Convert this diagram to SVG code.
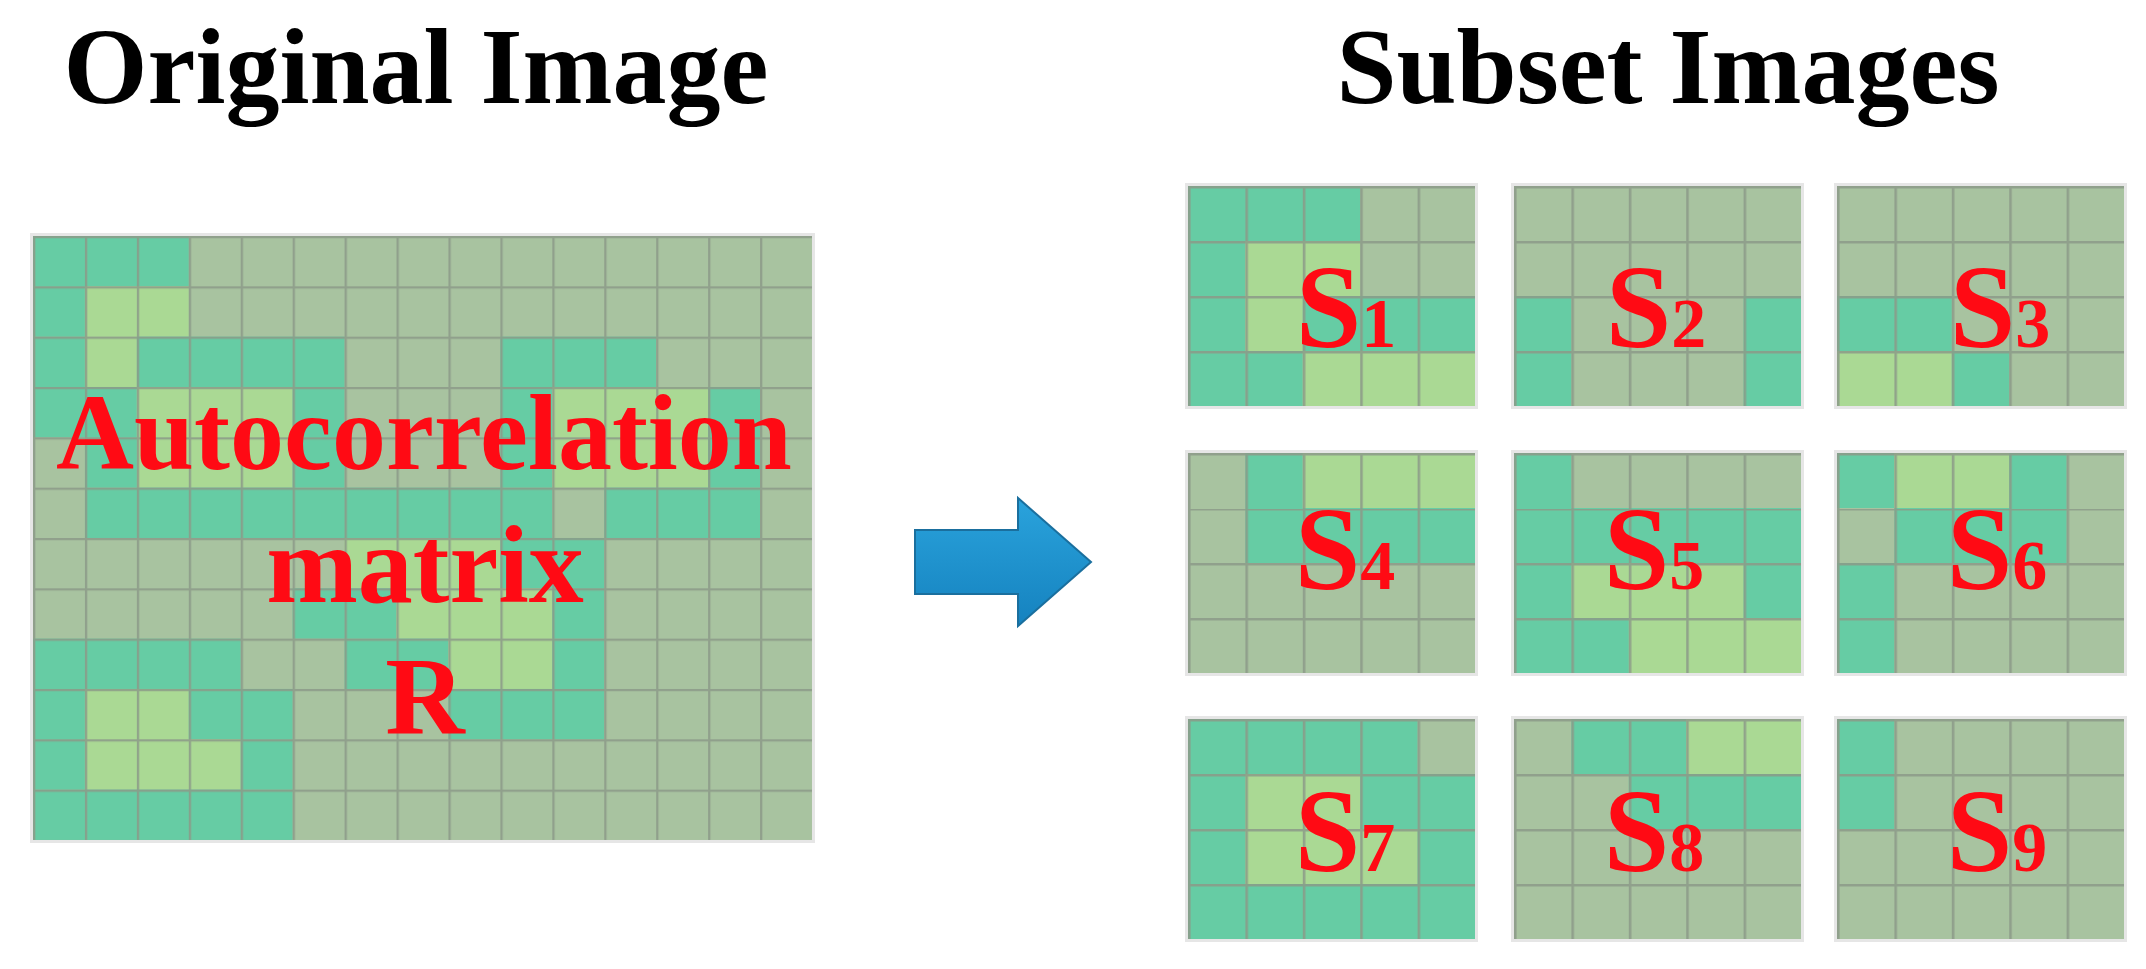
<svg xmlns="http://www.w3.org/2000/svg" width="2146" height="969" viewBox="0 0 2146 969">
<style>
.g{fill:#a8c3a0}.t{fill:#66cca4}.l{fill:#aad994}
.title{font-family:"Liberation Serif",serif;font-weight:bold;font-size:108px;fill:#000}
.lab{font-family:"Liberation Serif",serif;font-weight:bold;fill:#ff0a14;text-anchor:middle}
.sub{font-family:"Liberation Serif",serif;font-weight:bold;font-size:118px;fill:#ff0a14;text-anchor:middle}
.sub tspan{font-size:70px}
</style>
<defs>
<pattern id="grid" patternUnits="userSpaceOnUse" width="1" height="1">
<path d="M0 0H1M0 0V1" fill="none" stroke="#8c9a89" stroke-width="0.09" stroke-opacity="0.85"/>
</pattern>
<linearGradient id="ar" x1="0" y1="0" x2="0" y2="1">
<stop offset="0" stop-color="#2aa3dc"/><stop offset="1" stop-color="#1582bf"/>
</linearGradient>
</defs>
<rect width="2146" height="969" fill="#fff"/>
<text class="title" x="416" y="103" text-anchor="middle">Original Image</text>
<text class="title" x="1668" y="103" text-anchor="middle">Subset Images</text>

<g id="original">
<rect x="30" y="233" width="785" height="610" fill="#e6e6e6"/>
<g transform="translate(33,236) scale(51.93,50.33)">
<rect class="g" x="0" y="0" width="15" height="12"/>
<rect class="t" x="0" y="0" width="3" height="1"/>
<rect class="t" x="0" y="1" width="1" height="1"/><rect class="l" x="1" y="1" width="2" height="1"/>
<rect class="t" x="0" y="2" width="1" height="1"/><rect class="l" x="1" y="2" width="1" height="1"/><rect class="t" x="2" y="2" width="4" height="1"/><rect class="t" x="9" y="2" width="3" height="1"/>
<rect class="t" x="0" y="3" width="2" height="1"/><rect class="l" x="2" y="3" width="3" height="2"/><rect class="t" x="5" y="3" width="1" height="2"/><rect class="t" x="9" y="3" width="1" height="2"/><rect class="l" x="10" y="3" width="3" height="2"/><rect class="t" x="13" y="3" width="1" height="2"/>
<rect class="t" x="1" y="4" width="1" height="1"/>
<rect class="t" x="1" y="5" width="9" height="1"/><rect class="t" x="11" y="5" width="3" height="1"/>
<rect class="l" x="6" y="6" width="3" height="1"/><rect class="t" x="9" y="6" width="2" height="1"/>
<rect class="t" x="5" y="7" width="2" height="1"/><rect class="l" x="7" y="7" width="3" height="1"/><rect class="t" x="10" y="7" width="1" height="1"/>
<rect class="t" x="0" y="8" width="4" height="1"/><rect class="t" x="6" y="8" width="2" height="1"/><rect class="l" x="8" y="8" width="2" height="1"/><rect class="t" x="10" y="8" width="1" height="1"/>
<rect class="t" x="0" y="9" width="1" height="1"/><rect class="l" x="1" y="9" width="2" height="1"/><rect class="t" x="3" y="9" width="2" height="1"/><rect class="t" x="8" y="9" width="3" height="1"/>
<rect class="t" x="0" y="10" width="1" height="1"/><rect class="l" x="1" y="10" width="3" height="1"/><rect class="t" x="4" y="10" width="1" height="1"/>
<rect class="t" x="0" y="11" width="5" height="1"/>
<rect x="0" y="0" width="15" height="12" fill="url(#grid)"/>
</g>
<text class="lab" x="424" y="469" font-size="108">Autocorrelation</text>
<text class="lab" x="425" y="602" font-size="110">matrix</text>
<text class="lab" x="425" y="734" font-size="110">R</text>
</g>

<g id="connectors">
<path d="M915 530H1018V498L1091 562L1018 626V594H915Z" fill="url(#ar)" stroke="#1a6f9e" stroke-width="2"/>
</g>

<g id="s1"><rect x="1185" y="183" width="293" height="226" fill="#e6e6e6"/>
<g transform="translate(1188,186) scale(57.4,55)">
<rect class="g" width="5" height="4"/>
<rect class="t" x="0" y="0" width="3" height="1"/><rect class="t" x="0" y="1" width="1" height="3"/><rect class="l" x="1" y="1" width="2" height="1"/><rect class="l" x="1" y="2" width="1" height="1"/><rect class="t" x="2" y="2" width="3" height="1"/><rect class="t" x="1" y="3" width="1" height="1"/><rect class="l" x="2" y="3" width="3" height="1"/>
<rect width="5" height="4" fill="url(#grid)"/></g>
<text class="sub" x="1346" y="347">S<tspan>1</tspan></text></g>

<g id="s2"><rect x="1511" y="183" width="293" height="226" fill="#e6e6e6"/>
<g transform="translate(1514,186) scale(57.4,55)">
<rect class="g" width="5" height="4"/>
<rect class="t" x="0" y="2" width="1" height="2"/><rect class="t" x="4" y="2" width="1" height="2"/>
<rect width="5" height="4" fill="url(#grid)"/></g>
<text class="sub" x="1656" y="347">S<tspan>2</tspan></text></g>

<g id="s3"><rect x="1834" y="183" width="293" height="226" fill="#e6e6e6"/>
<g transform="translate(1837,186) scale(57.4,55)">
<rect class="g" width="5" height="4"/>
<rect class="t" x="0" y="2" width="2" height="1"/><rect class="l" x="0" y="3" width="2" height="1"/><rect class="t" x="2" y="3" width="1" height="1"/>
<rect width="5" height="4" fill="url(#grid)"/></g>
<text class="sub" x="2000" y="347">S<tspan>3</tspan></text></g>

<g id="s4"><rect x="1185" y="450" width="293" height="226" fill="#e6e6e6"/>
<g transform="translate(1188,453) scale(57.4,55)">
<rect class="g" width="5" height="4"/>
<rect class="t" x="1" y="0" width="1" height="2"/><rect class="l" x="2" y="0" width="3" height="1"/><rect class="t" x="2" y="1" width="3" height="1"/>
<rect width="5" height="4" fill="url(#grid)"/></g>
<text class="sub" x="1345" y="589">S<tspan>4</tspan></text></g>

<g id="s5"><rect x="1511" y="450" width="293" height="226" fill="#e6e6e6"/>
<g transform="translate(1514,453) scale(57.4,55)">
<rect class="t" width="5" height="4"/>
<rect class="g" x="1" y="0" width="4" height="1"/><rect class="l" x="1" y="2" width="3" height="1"/><rect class="l" x="2" y="3" width="3" height="1"/>
<rect width="5" height="4" fill="url(#grid)"/></g>
<text class="sub" x="1654" y="589">S<tspan>5</tspan></text></g>

<g id="s6"><rect x="1834" y="450" width="293" height="226" fill="#e6e6e6"/>
<g transform="translate(1837,453) scale(57.4,55)">
<rect class="g" width="5" height="4"/>
<rect class="t" x="0" y="0" width="1" height="1"/><rect class="l" x="1" y="0" width="2" height="1"/><rect class="t" x="3" y="0" width="1" height="1"/><rect class="t" x="1" y="1" width="3" height="1"/><rect class="t" x="0" y="2" width="1" height="2"/>
<rect width="5" height="4" fill="url(#grid)"/></g>
<text class="sub" x="1997" y="589">S<tspan>6</tspan></text></g>

<g id="s7"><rect x="1185" y="716" width="293" height="226" fill="#e6e6e6"/>
<g transform="translate(1188,719) scale(57.4,55)">
<rect class="t" width="5" height="4"/>
<rect class="g" x="4" y="0" width="1" height="1"/><rect class="l" x="1" y="1" width="2" height="1"/><rect class="l" x="1" y="2" width="3" height="1"/>
<rect width="5" height="4" fill="url(#grid)"/></g>
<text class="sub" x="1345" y="871">S<tspan>7</tspan></text></g>

<g id="s8"><rect x="1511" y="716" width="293" height="226" fill="#e6e6e6"/>
<g transform="translate(1514,719) scale(57.4,55)">
<rect class="g" width="5" height="4"/>
<rect class="t" x="1" y="0" width="2" height="1"/><rect class="l" x="3" y="0" width="2" height="1"/><rect class="t" x="2" y="1" width="3" height="1"/>
<rect width="5" height="4" fill="url(#grid)"/></g>
<text class="sub" x="1654" y="871">S<tspan>8</tspan></text></g>

<g id="s9"><rect x="1834" y="716" width="293" height="226" fill="#e6e6e6"/>
<g transform="translate(1837,719) scale(57.4,55)">
<rect class="g" width="5" height="4"/>
<rect class="t" x="0" y="0" width="1" height="2"/>
<rect width="5" height="4" fill="url(#grid)"/></g>
<text class="sub" x="1997" y="871">S<tspan>9</tspan></text></g>
</svg>
